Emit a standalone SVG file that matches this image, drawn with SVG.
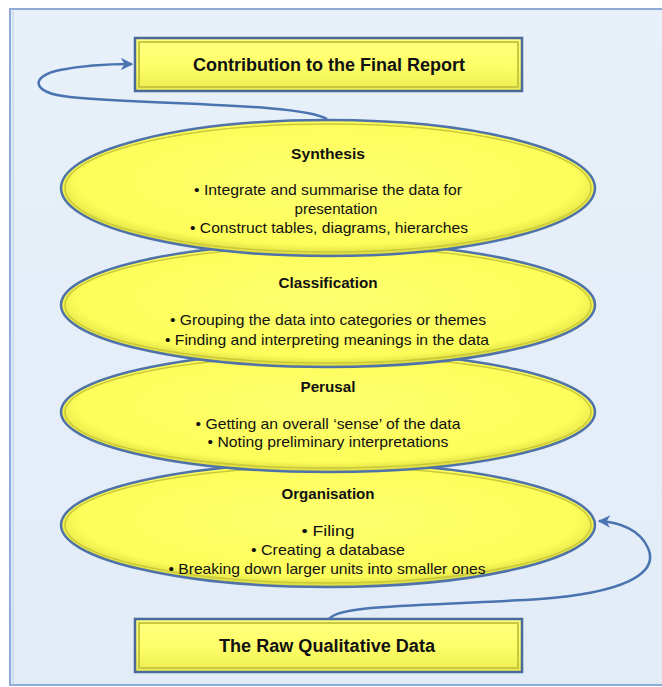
<svg xmlns="http://www.w3.org/2000/svg" width="662" height="687" viewBox="0 0 662 687">
<defs>
<linearGradient id="bg" x1="0" y1="0" x2="0" y2="1">
<stop offset="0" stop-color="#e8f0f9"/>
<stop offset="1" stop-color="#e2ecf7"/>
</linearGradient>
<radialGradient id="ell" cx="0.5" cy="0.45" r="0.55">
<stop offset="0" stop-color="#ffff70"/>
<stop offset="0.85" stop-color="#fdfd5a"/>
<stop offset="1" stop-color="#d8d840"/>
</radialGradient>
<linearGradient id="box" x1="0" y1="0" x2="0" y2="1">
<stop offset="0" stop-color="#ffff80"/>
<stop offset="0.5" stop-color="#ffff6a"/>
<stop offset="1" stop-color="#ecec50"/>
</linearGradient>
<marker id="arr" viewBox="0 0 10 10" refX="9" refY="5" markerWidth="5" markerHeight="5" orient="auto" markerUnits="strokeWidth">
<path d="M0,0 L10,5 L0,10 L3,5 Z" fill="#4a74b0"/>
</marker>
</defs>
<style>
.bx{fill:url(#box);stroke:#4a6a9c;stroke-width:2.5}
.bxin{fill:none;stroke:#c8c840;stroke-width:2}
.el{fill:url(#ell);stroke:#4f72a8;stroke-width:2.5}
.elin{fill:none;stroke:#c9c93a;stroke-width:1.5}
.big{font-family:"Liberation Sans",Arial,sans-serif;font-weight:bold;font-size:18px;fill:#111;text-anchor:middle}
.ttl{font-family:"Liberation Sans",Arial,sans-serif;font-weight:bold;font-size:15px;fill:#111;text-anchor:middle}
.tx{font-family:"Liberation Sans",Arial,sans-serif;font-size:14.5px;fill:#111;text-anchor:middle}
.con{fill:none;stroke:#4a74b0;stroke-width:2.5;marker-end:url(#arr)}
</style>
<rect x="0" y="0" width="662" height="687" fill="#ffffff"/>
<rect x="10" y="9" width="670" height="676" fill="url(#bg)" stroke="#8eaad6" stroke-width="2"/>
<line x1="13" y1="11" x2="13" y2="685" stroke="#b9cce8" stroke-width="1"/>

<g id="organisation">
<ellipse class="el" cx="328" cy="525" rx="267" ry="62"/>
<ellipse class="elin" cx="328" cy="525" rx="263" ry="58"/>
<text class="ttl" x="328" y="499" textLength="93" lengthAdjust="spacingAndGlyphs">Organisation</text>
<text class="tx" x="328" y="536" textLength="53" lengthAdjust="spacingAndGlyphs">•  Filing</text>
<text class="tx" x="328" y="555" textLength="154" lengthAdjust="spacingAndGlyphs">•  Creating a database</text>
<text class="tx" x="327" y="574" textLength="317" lengthAdjust="spacingAndGlyphs">•  Breaking down larger units into smaller ones</text>
</g>
<g id="perusal">
<ellipse class="el" cx="328" cy="412" rx="267" ry="60"/>
<ellipse class="elin" cx="328" cy="412" rx="263" ry="56"/>
<text class="ttl" x="328" y="392" textLength="55" lengthAdjust="spacingAndGlyphs">Perusal</text>
<text class="tx" x="328" y="429" textLength="265" lengthAdjust="spacingAndGlyphs">•  Getting an overall ‘sense’ of the data</text>
<text class="tx" x="328" y="447" textLength="241" lengthAdjust="spacingAndGlyphs">•  Noting preliminary interpretations</text>
</g>
<g id="classification">
<ellipse class="el" cx="328" cy="305" rx="267" ry="62"/>
<ellipse class="elin" cx="328" cy="305" rx="263" ry="58"/>
<text class="ttl" x="328" y="288" textLength="99" lengthAdjust="spacingAndGlyphs">Classification</text>
<text class="tx" x="328" y="325" textLength="316" lengthAdjust="spacingAndGlyphs">•  Grouping the data into categories or themes</text>
<text class="tx" x="327" y="345" textLength="324" lengthAdjust="spacingAndGlyphs">•  Finding and interpreting meanings in the data</text>
</g>
<g id="synthesis">
<ellipse class="el" cx="328" cy="188" rx="267" ry="68"/>
<ellipse class="elin" cx="328" cy="188" rx="263" ry="64"/>
<text class="ttl" x="328" y="159" textLength="74" lengthAdjust="spacingAndGlyphs">Synthesis</text>
<text class="tx" x="328" y="195" textLength="268" lengthAdjust="spacingAndGlyphs">•  Integrate and summarise the data for</text>
<text class="tx" x="336" y="214" textLength="83" lengthAdjust="spacingAndGlyphs">presentation</text>
<text class="tx" x="329" y="233" textLength="278" lengthAdjust="spacingAndGlyphs">•  Construct tables, diagrams, hierarches</text>
</g>
<g id="final-report">
<rect class="bx" x="135" y="38" width="387" height="53"/>
<rect class="bxin" x="139" y="42" width="379" height="45"/>
<text class="big" x="329" y="71" textLength="272" lengthAdjust="spacingAndGlyphs">Contribution to the Final Report</text>
</g>
<g id="raw-data">
<rect class="bx" x="135" y="619" width="387" height="53"/>
<rect class="bxin" x="139" y="623" width="379" height="45"/>
<text class="big" x="327" y="652" textLength="216" lengthAdjust="spacingAndGlyphs">The Raw Qualitative Data</text>
</g>
<g id="connectors">
<path class="con" d="M 327 119 C 300 103, 150 105, 70 97 C 30 93, 30 76, 60 70 C 85 65, 110 64, 132 64"/>
<path class="con" d="M 329 619 C 340 604, 430 606, 540 599 C 620 593, 660 575, 648 548 C 640 530, 620 522, 599 521"/>
</g>
</svg>
